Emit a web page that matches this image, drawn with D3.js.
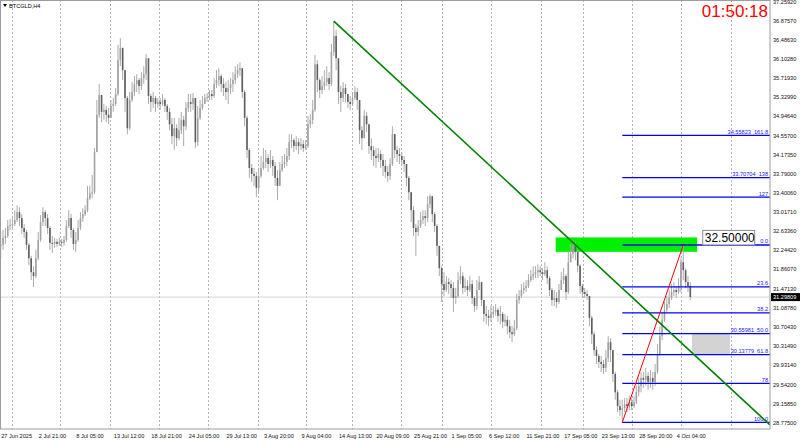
<!DOCTYPE html>
<html>
<head>
<meta charset="utf-8">
<script src="https://cdn.jsdelivr.net/npm/d3@7"></script>
<style>
body { margin: 0; background: #fff; }
svg { display: block; font-family: "Liberation Sans", Arial, sans-serif; }
</style>
</head>
<body>
<svg id="chart" width="800" height="442"></svg>
<script>
// ---- data (one candle = 2 x H4 bars) ----
var symbolName = "BTCGLD,H4";
var timerText = "01:50:18";
var firstOpen = 32.33;

var closes = [
32.35,32.49,32.53,32.73,32.75,32.77,32.85,33.01,32.89,32.69,
32.61,32.35,32.08,31.80,31.72,32.08,32.45,32.81,33.01,32.89,
32.69,32.39,32.37,32.41,32.37,32.41,32.39,32.45,32.73,32.89,
32.65,32.37,32.45,32.69,32.89,32.97,33.05,33.29,33.39,33.41,
34.22,34.97,35.37,35.03,35.07,34.97,34.91,35.15,35.19,35.39,
36.07,36.32,35.87,35.31,34.70,35.27,35.43,35.59,35.67,35.55,
35.71,35.79,36.11,35.35,35.23,35.31,35.19,35.23,35.19,35.27,
35.15,35.03,34.78,34.54,34.70,34.50,34.66,34.87,34.74,35.11,
35.23,35.19,35.31,34.42,34.91,35.11,35.19,35.31,35.33,35.39,
35.35,35.59,35.67,35.75,35.59,35.51,35.43,35.51,35.59,35.67,
35.79,35.87,35.91,35.43,34.91,34.26,33.90,33.78,33.74,33.50,
33.74,33.90,34.02,34.10,33.98,34.06,33.94,33.70,33.54,33.86,
33.98,34.02,34.14,34.42,34.46,34.34,34.42,34.34,34.38,34.30,
34.34,34.78,34.87,35.07,35.99,35.67,35.47,35.55,35.63,35.71,
35.59,36.24,36.56,36.11,35.43,35.31,35.51,35.39,35.23,35.19,
35.31,35.43,35.27,34.66,34.50,34.95,34.78,34.34,34.26,34.14,
34.10,34.18,34.06,33.94,33.82,33.74,33.98,34.58,34.26,34.18,
34.14,34.06,33.98,33.70,33.41,33.05,32.69,32.61,32.73,32.85,
32.93,32.89,33.17,33.33,32.97,32.73,32.33,31.88,31.56,31.44,
31.60,31.56,31.48,31.28,31.32,31.64,31.72,31.48,31.52,31.44,
31.56,31.28,31.12,31.44,31.60,31.24,30.96,30.92,30.88,30.96,
31.00,31.04,30.92,30.96,30.80,30.84,30.71,30.59,30.55,30.67,
31.24,31.32,31.44,31.48,31.52,31.64,31.72,31.76,31.80,31.84,
31.80,31.76,31.84,31.68,31.44,31.24,31.28,31.20,31.44,31.64,
31.72,31.40,32.00,32.17,32.33,32.21,31.93,31.52,31.40,31.36,
31.32,30.88,30.55,30.23,30.11,29.99,29.95,29.87,30.07,30.39,
30.23,29.75,29.38,29.10,29.02,29.06,29.14,29.10,29.18,29.10,
29.18,29.38,29.51,29.67,29.63,29.71,29.59,29.67,29.59,29.79,
30.15,30.51,30.84,31.04,31.16,31.28,31.40,31.44,31.40,31.52,
32.00,31.84,31.60,31.52,31.29809
];

var highs = [
32.61,32.65,32.69,32.85,32.87,32.89,33.05,33.15,33.11,32.97,
32.77,32.65,32.39,32.13,31.92,32.25,32.61,32.95,33.11,33.05,
32.97,32.73,32.53,32.49,32.47,32.49,32.47,32.53,32.85,33.05,
32.97,32.69,32.61,32.85,33.01,33.09,33.15,33.54,33.54,33.76,
34.30,35.27,35.59,35.27,35.19,35.15,35.11,35.27,35.31,35.51,
36.38,36.52,36.16,35.87,35.35,35.43,35.63,35.75,35.79,35.71,
35.83,35.95,36.20,36.07,35.39,35.43,35.35,35.31,35.31,35.39,
35.31,35.19,35.11,34.91,34.91,34.78,34.91,35.03,34.95,35.23,
35.39,35.39,35.41,35.27,35.15,35.27,35.35,35.39,35.41,35.47,
35.47,35.71,35.87,35.91,35.79,35.71,35.63,35.67,35.71,35.83,
35.95,35.99,36.03,35.91,35.47,34.95,34.30,33.98,33.90,33.82,
33.90,34.14,34.30,34.26,34.18,34.26,34.14,34.02,33.86,34.02,
34.14,34.18,34.30,34.58,34.58,34.50,34.54,34.50,34.50,34.46,
34.46,34.95,34.99,35.27,36.18,36.07,35.71,35.75,35.87,35.95,
35.83,36.40,36.86,36.68,36.11,35.55,35.63,35.59,35.39,35.35,
35.43,35.55,35.51,35.27,34.74,35.07,35.03,34.74,34.50,34.34,
34.30,34.30,34.26,34.18,34.06,33.94,34.10,34.74,34.54,34.34,
34.30,34.22,34.14,33.98,33.74,33.41,33.13,32.77,32.85,33.01,
33.05,33.05,33.33,33.37,33.29,33.01,32.77,32.29,31.92,31.80,
31.72,31.68,31.64,31.60,31.48,31.80,31.92,31.80,31.68,31.64,
31.72,31.64,31.32,31.64,31.72,31.56,31.24,31.12,31.04,31.12,
31.12,31.16,31.08,31.12,31.00,30.96,30.92,30.84,30.72,30.84,
31.36,31.44,31.56,31.60,31.64,31.76,31.84,31.92,31.92,31.96,
31.92,31.88,32.00,31.92,31.72,31.48,31.44,31.40,31.56,31.80,
31.88,31.76,32.21,32.37,32.45,32.41,32.25,31.96,31.56,31.48,
31.44,31.32,30.92,30.60,30.31,30.15,30.11,30.03,30.23,30.51,
30.47,30.19,29.79,29.43,29.23,29.23,29.26,29.26,29.30,29.26,
29.30,29.51,29.67,29.79,29.79,29.87,29.79,29.83,29.79,29.95,
30.35,30.71,31.00,31.20,31.32,31.44,31.56,31.60,31.52,31.68,
32.08,32.348,31.88,31.72,31.60
];

var lows = [
32.08,32.25,32.37,32.49,32.65,32.67,32.73,32.81,32.73,32.57,
32.49,32.25,31.94,31.64,31.50,31.68,32.04,32.41,32.73,32.73,
32.57,32.25,32.19,32.29,32.31,32.33,32.31,32.33,32.41,32.69,
32.49,32.25,32.21,32.41,32.65,32.81,32.93,33.01,33.25,33.29,
33.37,34.56,34.91,34.82,34.87,34.82,34.78,34.91,35.03,35.15,
35.35,35.95,35.67,35.03,34.58,34.66,35.23,35.35,35.43,35.39,
35.47,35.59,35.67,35.19,35.03,35.11,35.03,35.11,35.07,35.15,
35.03,34.87,34.66,34.38,34.26,34.34,34.46,34.58,34.34,34.66,
35.03,35.03,35.07,34.30,34.34,34.87,35.07,35.19,35.23,35.27,
35.27,35.31,35.51,35.55,35.43,35.35,35.27,35.19,35.39,35.43,
35.59,35.71,35.75,35.31,34.74,34.10,33.70,33.62,33.54,33.31,
33.41,33.70,33.86,33.90,33.82,33.90,33.74,33.54,33.25,33.58,
33.82,33.90,33.94,34.06,34.30,34.22,34.26,34.18,34.26,34.22,
34.26,34.30,34.70,34.78,35.03,35.43,35.31,35.39,35.47,35.55,
35.47,35.55,36.16,35.87,35.19,35.03,35.23,35.23,35.11,35.07,
35.15,35.27,35.07,34.38,34.26,34.54,34.62,34.18,34.06,33.94,
33.90,34.02,33.90,33.74,33.70,33.62,33.66,33.94,34.10,34.02,
33.98,33.94,33.82,33.54,33.25,32.81,32.53,32.13,32.53,32.69,
32.77,32.73,32.81,33.09,32.81,32.61,32.13,31.72,31.20,31.32,
31.40,31.36,31.28,31.00,31.16,31.28,31.56,31.36,31.40,31.32,
31.40,31.16,31.00,31.04,31.44,31.12,30.80,30.75,30.71,30.80,
30.88,30.92,30.80,30.75,30.67,30.71,30.55,30.47,30.39,30.51,
30.63,31.16,31.28,31.36,31.40,31.48,31.60,31.64,31.68,31.68,
31.72,31.64,31.72,31.56,31.32,31.12,31.12,31.08,31.16,31.44,
31.56,31.24,31.36,32.00,32.08,32.04,31.80,31.36,31.28,31.28,
31.24,30.71,30.35,30.11,29.95,29.87,29.79,29.75,29.79,29.99,
29.99,29.59,29.23,28.98,28.90,28.7716,28.98,28.98,29.02,29.02,
29.06,29.14,29.30,29.38,29.47,29.51,29.43,29.47,29.43,29.51,
29.75,30.11,30.43,30.80,31.00,31.08,31.24,31.32,31.28,31.36,
31.40,31.64,31.48,31.40,31.24
];

var timeLabels = ["27 Jun 2025","2 Jul 21:00","8 Jul 05:00","13 Jul 12:00","18 Jul 21:00",
  "24 Jul 05:00","29 Jul 13:00","3 Aug 20:00","9 Aug 04:00","14 Aug 13:00","20 Aug 09:00",
  "25 Aug 21:00","1 Sep 05:00","6 Sep 12:00","11 Sep 21:00","17 Sep 05:00","23 Sep 13:00",
  "28 Sep 20:00","4 Oct 04:00"];
var timeLabelIdx = [0,16,32,48,64,80,96,112,128,144,160,176,192,208,224,240,256,272,288];
var gridIdx = [4.7,25.4,46.5,67.6,88.5,109.6,130.3,149.9,170.6,188.3,209.2,230.4,248.4,269.3,290.2,311.3];

var priceTicks = [37.25920,36.87570,36.48630,36.10280,35.71930,35.32990,34.94640,34.55700,
  34.17350,33.79000,33.40060,33.01710,32.63360,32.24420,31.86070,31.47130,31.08780,
  30.70430,30.31490,29.93140,29.54200,29.15850,28.77500];
var lastPrice = 31.29809;

var fibLow = 28.7716, fibHigh = 32.3480;
var fibValues = [0, 0.236, 0.382, 0.5, 0.618, 0.78, 1, -0.27, -0.38, -0.618];
var fibTexts = ["0.0","23.6","38.2","30.55981  50.0","30.13779  61.8","78","100.0","127","33.70704  138","34.55823  161.8"];
var fibStartIdx = 265;
var swingLine = [[265, 28.7716], [291, 32.348]];
var trendLine = [[142, 36.86], [328, 28.72]];
var greenZone = [236.6, 296.9, 32.50, 32.21];
var grayZone = [294.7, 310.9, 30.55981, 30.13779];
var priceNote = [299.3, 32.5, "32.50000"];

// ---- layout ----
var plotW = 770, plotH = 429;
var svg = d3.select("#chart");
var x = d3.scaleLinear().domain([0, 328]).range([0.7, 770.05]);
var y = d3.scaleLinear().domain([28.775, 37.2592]).range([422.3, 1.25]);

svg.append("defs").append("clipPath").attr("id", "plotclip")
  .append("rect").attr("x", 0).attr("y", 0).attr("width", plotW).attr("height", plotH);

var g = svg.append("g").attr("clip-path", "url(#plotclip)");

// weekly separators (dotted)
g.selectAll(".vgrid").data(gridIdx).enter().append("line")
  .attr("x1", function(d) { return Math.round(x(d)) + 0.5; })
  .attr("x2", function(d) { return Math.round(x(d)) + 0.5; })
  .attr("y1", 0).attr("y2", plotH)
  .attr("stroke", "#b4b4b4").attr("stroke-dasharray", "2,2");

// current price line
g.append("line").attr("x1", 0).attr("x2", plotW)
  .attr("y1", y(lastPrice)).attr("y2", y(lastPrice))
  .attr("stroke", "#d4d4d4").attr("stroke-width", 1);

// green zone + gray zone
g.append("rect")
  .attr("x", x(greenZone[0])).attr("width", x(greenZone[1]) - x(greenZone[0]))
  .attr("y", y(greenZone[2])).attr("height", y(greenZone[3]) - y(greenZone[2]))
  .attr("fill", "#00f000");
g.append("rect")
  .attr("x", x(grayZone[0])).attr("width", x(grayZone[1]) - x(grayZone[0]))
  .attr("y", y(grayZone[2])).attr("height", y(grayZone[3]) - y(grayZone[2]))
  .attr("fill", "#d3d3d3");

// candles
var candles = closes.map(function(c, i) {
  var o = i === 0 ? firstOpen : closes[i - 1];
  return { i: i, o: o, c: c, h: Math.max(highs[i], o, c), l: Math.min(lows[i], o, c) };
});
var cg = g.append("g");
cg.selectAll(".wick").data(candles).enter().append("line")
  .attr("x1", function(d) { return x(d.i); })
  .attr("x2", function(d) { return x(d.i); })
  .attr("y1", function(d) { return y(d.h); })
  .attr("y2", function(d) { return y(d.l); })
  .attr("stroke", "#ababab").attr("stroke-width", 1);
cg.selectAll(".body").data(candles).enter().append("rect")
  .attr("x", function(d) { return x(d.i) - 0.8; })
  .attr("width", 1.6)
  .attr("y", function(d) { return y(Math.max(d.o, d.c)); })
  .attr("height", function(d) { return Math.max(0.8, Math.abs(y(d.o) - y(d.c))); })
  .attr("fill", function(d) { return d.c >= d.o ? "#a2a2a2" : "#5e5e5e"; });

// fibo levels
var fib = fibValues.map(function(v, k) {
  return { p: fibHigh - v * (fibHigh - fibLow), t: fibTexts[k] };
});
g.selectAll(".fib").data(fib).enter().append("line")
  .attr("x1", x(fibStartIdx)).attr("x2", plotW)
  .attr("y1", function(d) { return y(d.p); })
  .attr("y2", function(d) { return y(d.p); })
  .attr("stroke", "#0000ff").attr("stroke-width", 1.3);
g.selectAll(".fibt").data(fib).enter().append("text")
  .attr("x", 768).attr("y", function(d) { return y(d.p) - 1.5; })
  .attr("text-anchor", "end").attr("font-size", 5.6)
  .attr("fill", "#2020ff").style("white-space", "pre")
  .text(function(d) { return d.t; });

// trend line and swing line
var line = d3.line().x(function(d) { return x(d[0]); }).y(function(d) { return y(d[1]); });
g.append("path").attr("d", line(trendLine)).attr("fill", "none")
  .attr("stroke", "#008000").attr("stroke-width", 1.6);
g.append("path").attr("d", line(swingLine)).attr("fill", "none")
  .attr("stroke", "#ff0000").attr("stroke-width", 1);

// price note box
var nx = x(priceNote[0]), ny = y(priceNote[1]);
g.append("rect").attr("x", nx).attr("y", ny - 7).attr("width", 52).attr("height", 14.5)
  .attr("fill", "#fff").attr("stroke", "#8c8c8c").attr("stroke-width", 1);
g.append("text").attr("x", nx + 2).attr("y", ny + 4.3)
  .attr("font-size", 12).attr("fill", "#000").text(priceNote[2]);

// symbol caption + timer (timer sits inside the plot, right-aligned)
svg.append("path").attr("d", "M3,4 L7,4 L5,7 Z").attr("fill", "#000");
svg.append("text").attr("x", 9).attr("y", 7.5).attr("font-size", 5.6)
  .attr("fill", "#000").text(symbolName);
g.append("text").attr("x", 768).attr("y", 17).attr("text-anchor", "end")
  .attr("font-size", 17).attr("fill", "#ff0000").text(timerText);

// frame
svg.append("rect").attr("x", 0.5).attr("y", 0.5).attr("width", plotW - 0.5).attr("height", plotH - 0.5)
  .attr("fill", "none").attr("stroke", "#9c9c9c").attr("stroke-width", 1);

// right price axis
var yAxis = d3.axisRight(y).tickValues(priceTicks).tickSize(0).tickPadding(3)
  .tickFormat(d3.format(".5f"));
var ya = svg.append("g").attr("transform", "translate(" + plotW + ",0)").call(yAxis);
ya.select(".domain").remove();
ya.selectAll("text").attr("font-size", 5.6).attr("fill", "#111").attr("font-family", null);

// current price tag
svg.append("rect").attr("x", plotW + 1).attr("y", y(lastPrice) - 4).attr("width", 29).attr("height", 8)
  .attr("fill", "#000");
svg.append("text").attr("x", plotW + 3).attr("y", y(lastPrice) + 2).attr("font-size", 5.6)
  .attr("fill", "#fff").text(d3.format(".5f")(lastPrice));

// bottom time axis
var xAxis = d3.axisBottom(x).tickValues(timeLabelIdx).tickSize(0).tickPadding(5)
  .tickFormat(function(d, k) { return timeLabels[k]; });
var xa = svg.append("g").attr("transform", "translate(0," + plotH + ")").call(xAxis);
xa.select(".domain").remove();
xa.selectAll("text").attr("text-anchor", "start").attr("font-size", 5.6)
  .attr("fill", "#111").attr("font-family", null);
</script>
</body>
</html>
